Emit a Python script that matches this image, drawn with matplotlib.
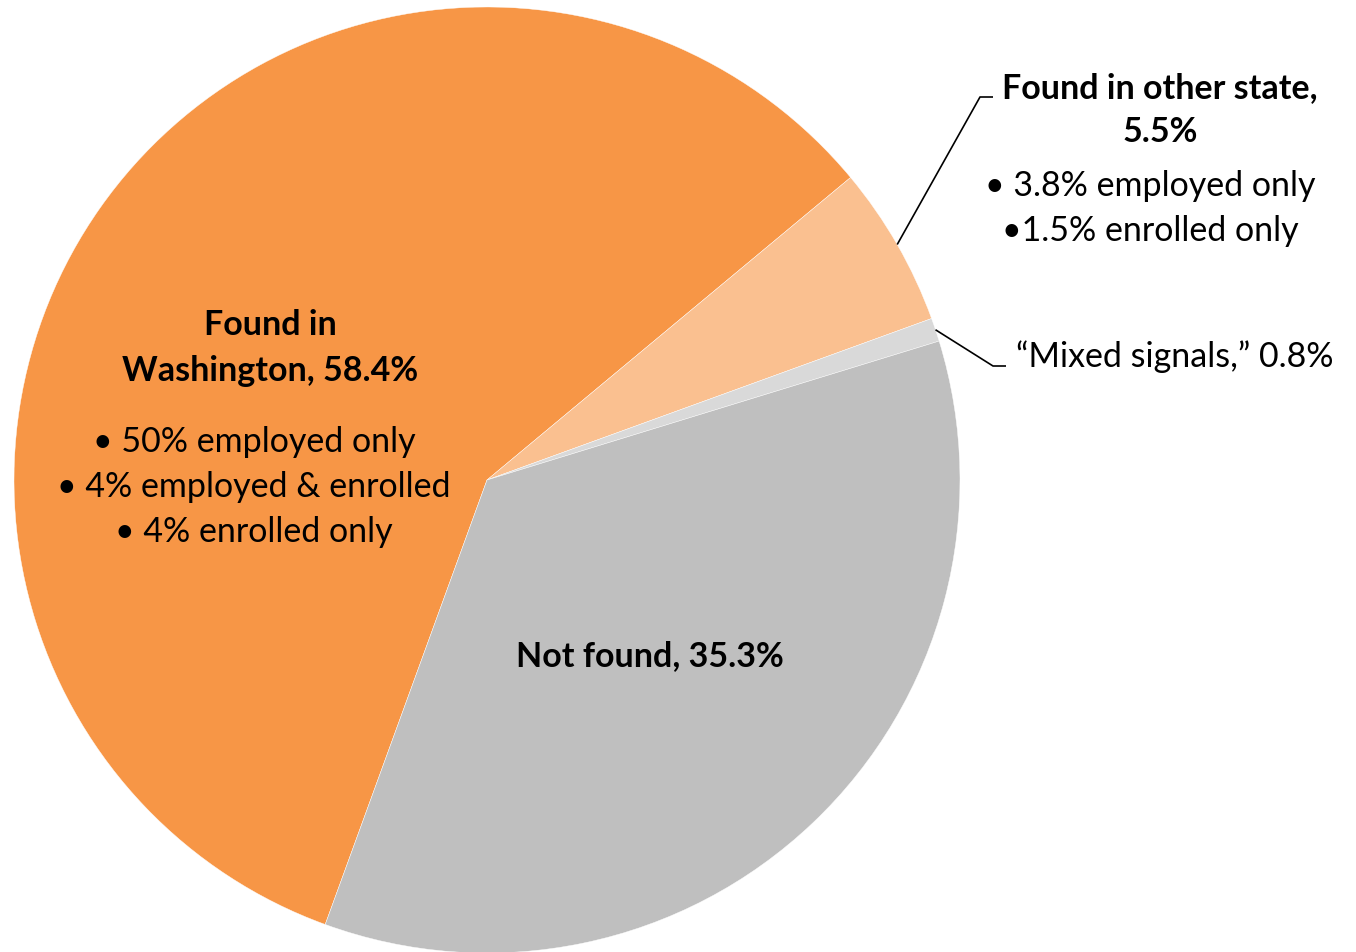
import matplotlib.pyplot as plt
import numpy as np

labels = ['Found in Washington', 'Found in other state', 'Mixed signals', 'Not found']
shares = [58.4, 5.5, 0.8, 35.3]
colors = ['#F79646', '#FAC090', '#D9D9D9', '#BFBFBF']

wa_title = ['Found in', 'Washington, 58.4%']
wa_bullets = ['\u2022 50% employed only', '\u2022 4% employed & enrolled', '\u2022 4% enrolled only']
other_title = ['Found in other state,', '5.5%']
other_bullets = ['\u2022 3.8% employed only', '\u20221.5% enrolled only']
mixed_label = '\u201cMixed signals,\u201d 0.8%'
notfound_label = 'Not found, 35.3%'

W, H = 1356, 953
plt.rcParams['font.family'] = ['Lato', 'DejaVu Sans']
fig = plt.figure(figsize=(W / 100, H / 100), dpi=100)
ax = fig.add_axes([0, 0, 1, 1])

cx, cy, r = 487, H - 481, 473
wedges, _ = ax.pie(
    shares,
    colors=colors,
    startangle=250,
    counterclock=False,
    center=(cx, cy),
    radius=r,
    wedgeprops=dict(edgecolor='white', linewidth=0.3),
    frame=True,
)
ax.set_xlim(0, W)
ax.set_ylim(0, H)
ax.set_aspect('equal')
ax.axis('off')

fs = 24.5


def txt(x, y, s, bold=False):
    ax.text(x, H - y, s, ha='center', va='center', fontsize=fs,
            fontweight='bold' if bold else 'normal', color='black')


# Washington label
txt(270, 325, wa_title[0], True)
txt(270, 371, wa_title[1], True)
for i, s in enumerate(wa_bullets):
    txt(254, 442 + 45 * i, s)

# other state label
txt(1160, 88, other_title[0], True)
txt(1160, 132, other_title[1], True)
for i, s in enumerate(other_bullets):
    txt(1150, 186 + 45 * i, s)

txt(1175, 357, mixed_label)
txt(650, 656, notfound_label, True)


def leader(w, knee, end):
    mid = np.deg2rad((w.theta1 + w.theta2) / 2)
    x0 = cx + r * np.cos(mid)
    y0 = cy + r * np.sin(mid)
    ax.plot([x0, knee[0], end[0]], [y0, H - knee[1], H - end[1]],
            color='black', lw=1.2, solid_capstyle='butt')


leader(wedges[1], (980, 98), (993, 98))
leader(wedges[2], (993, 367), (1006, 367))

fig.savefig('out.png', dpi=100)
